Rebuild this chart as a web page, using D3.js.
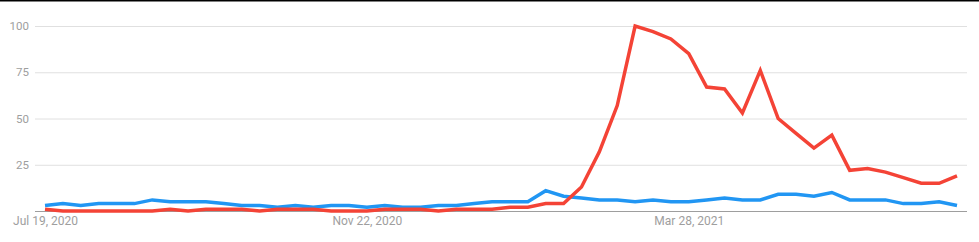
<!DOCTYPE html>
<html>
<head>
<meta charset="utf-8">
<script src="https://cdn.jsdelivr.net/npm/d3@7"></script>
<style>
  body { margin: 0; background: #fff; }
  svg { display: block; font-family: Roboto, Arial, sans-serif; }
</style>
</head>
<body>
<script>
(function (d3) {
  "use strict";

  /***** Data *****/
  // weekly points starting Jul 19, 2020
  var startDate = new Date(2020, 6, 19);
  var blueValues = [3, 4, 3, 4, 4, 4, 6, 5, 5, 5, 4, 3, 3, 2, 3, 2, 3, 3, 2, 3, 2, 2, 3, 3, 4, 5,
    5, 5, 11, 8, 7, 6, 6, 5, 6, 5, 5, 6, 7, 6, 6, 9, 9, 8, 10, 6, 6, 6, 4, 4, 5, 3];
  var redValues = [1, 0, 0, 0, 0, 0, 0, 1, 0, 1, 1, 1, 0, 1, 1, 1, 0, 0, 0, 1, 1, 1, 0, 1, 1, 1,
    2, 2, 4, 4, 13, 32, 57, 100, 97, 93, 85, 67, 66, 53, 76, 50, 42, 34, 41, 22, 23, 21, 18, 15, 15, 19];
  var yTicks = [25, 50, 75, 100];
  var xTickDates = [new Date(2020, 6, 19), new Date(2020, 10, 22), new Date(2021, 2, 28)];

  var dates = blueValues.map(function (d, i) { return d3.timeWeek.offset(startDate, i); });

  /***** Configuration *****/
  var totalWidth = 979, totalHeight = 242;
  var margin = { top: 26, right: 22, bottom: 31, left: 45 };
  var width = totalWidth - margin.left - margin.right;
  var height = totalHeight - margin.top - margin.bottom;
  var labelColor = "#9e9e9e";

  /***** Scales *****/
  var x = d3.scaleTime().domain([dates[0], dates[dates.length - 1]]).range([0, width]);
  var y = d3.scaleLinear().domain([0, 100]).range([height, 0]);

  var svg = d3.select("body").append("svg")
    .attr("width", totalWidth)
    .attr("height", totalHeight);

  // top border
  svg.append("rect")
    .attr("x", 0).attr("y", 0)
    .attr("width", totalWidth).attr("height", 1.5)
    .attr("fill", "#000");

  var g = svg.append("g")
    .attr("transform", "translate(" + margin.left + "," + margin.top + ")");

  /***** Grid and y labels *****/
  var yAxis = d3.axisLeft(y)
    .tickValues(yTicks)
    .tickSize(-(width + 20))
    .tickPadding(6);

  var yAxisG = g.append("g")
    .attr("transform", "translate(-10,0)")
    .call(yAxis);
  yAxisG.select(".domain").remove();
  yAxisG.selectAll(".tick line").attr("stroke", "#e0e0e0").attr("stroke-width", 1);
  yAxisG.selectAll(".tick text")
    .attr("fill", labelColor)
    .attr("font-size", 11.5)
    .attr("font-family", "Roboto, Arial, sans-serif");

  // baseline
  g.append("line")
    .attr("x1", -10).attr("x2", width + 10)
    .attr("y1", y(0) + 0.5).attr("y2", y(0) + 0.5)
    .attr("stroke", "#9e9e9e")
    .attr("stroke-width", 1);

  /***** X labels *****/
  var xAxis = d3.axisBottom(x)
    .tickValues(xTickDates)
    .tickSize(0)
    .tickPadding(5)
    .tickFormat(d3.timeFormat("%b %-d, %Y"));

  var xAxisG = g.append("g")
    .attr("transform", "translate(0," + height + ")")
    .call(xAxis);
  xAxisG.select(".domain").remove();
  xAxisG.selectAll(".tick text")
    .attr("fill", labelColor)
    .attr("font-size", 12)
    .attr("font-family", "Roboto, Arial, sans-serif");

  /***** Lines *****/
  var line = d3.line()
    .x(function (d, i) { return x(dates[i]); })
    .y(function (d) { return y(d); });

  g.append("path")
    .datum(blueValues)
    .attr("fill", "none")
    .attr("stroke", "#2196f3")
    .attr("stroke-width", 3.5)
    .attr("stroke-linejoin", "miter")
    .attr("d", line);

  g.append("path")
    .datum(redValues)
    .attr("fill", "none")
    .attr("stroke", "#f44336")
    .attr("stroke-width", 3.5)
    .attr("stroke-linejoin", "miter")
    .attr("d", line);

})(d3);
</script>
</body>
</html>
